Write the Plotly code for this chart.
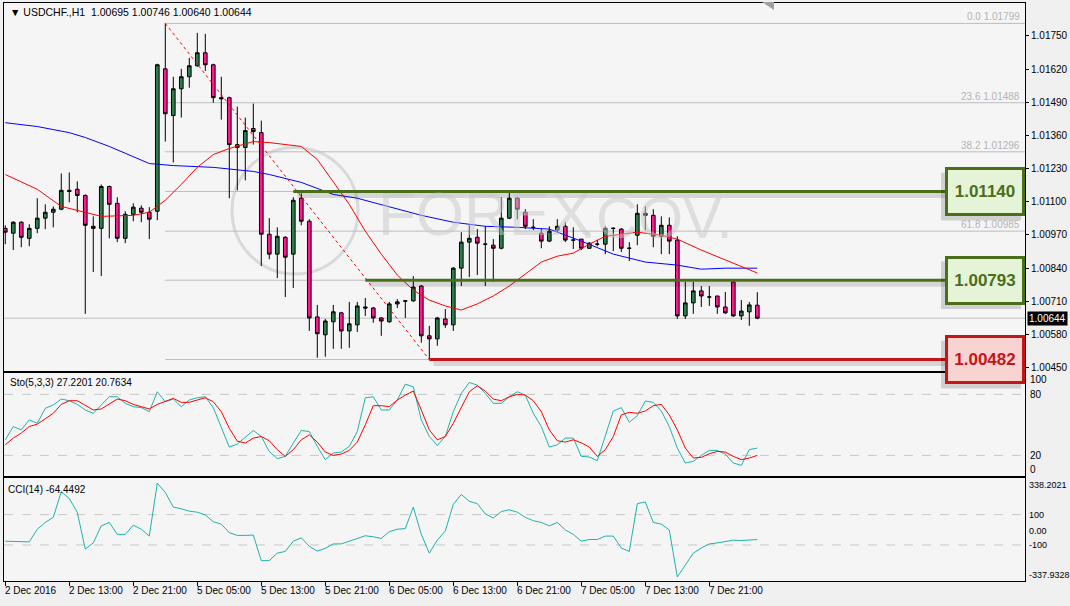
import plotly.graph_objects as go

# ---------------- data ----------------
time_labels = ["2 Dec 2016", "2 Dec 13:00", "2 Dec 21:00", "5 Dec 05:00", "5 Dec 13:00", "5 Dec 21:00",
               "6 Dec 05:00", "6 Dec 13:00", "6 Dec 21:00", "7 Dec 05:00", "7 Dec 13:00", "7 Dec 21:00"]
time_label_bars = [0, 8, 16, 24, 32, 40, 48, 56, 64, 72, 80, 88]

opens = [1.00996, 1.00977, 1.01020, 1.00957, 1.00996, 1.01036, 1.01059, 1.01071, 1.01145, 1.01149,
         1.01125, 1.01004, 1.00996, 1.01160, 1.01094, 1.00957, 1.01051, 1.01075, 1.01059, 1.01063,
         1.01621, 1.01438, 1.01543, 1.01590, 1.01633, 1.01684, 1.01637, 1.01508, 1.01508, 1.01324,
         1.01313, 1.01387, 1.01371, 1.00973, 1.00895, 1.00961, 1.00895, 1.01114, 1.01024, 1.00649,
         1.00579, 1.00630, 1.00665, 1.00594, 1.00618, 1.00688, 1.00684, 1.00645, 1.00630, 1.00700,
         1.00712, 1.00712, 1.00770, 1.00575, 1.00563, 1.00641, 1.00618, 1.00840, 1.00942, 1.00961,
         1.00934, 1.00930, 1.00918, 1.01036, 1.01114, 1.01059, 1.01000, 1.00977, 1.00946, 1.00989,
         1.01004, 1.00950, 1.00954, 1.00918, 1.00934, 1.00934, 1.00996, 1.00993, 1.00918, 1.00969,
         1.01055, 1.01047, 1.00965, 1.01008, 1.00950, 1.00653, 1.00704, 1.00751, 1.00727, 1.00731,
         1.00688, 1.00786, 1.00653, 1.00669, 1.00695]
highs = [1.01008, 1.01024, 1.01024, 1.01012, 1.01114, 1.01090, 1.01082, 1.01211, 1.01215, 1.01180,
         1.01129, 1.01043, 1.01168, 1.01164, 1.01118, 1.01063, 1.01094, 1.01086, 1.01079, 1.01641,
         1.01799, 1.01590, 1.01621, 1.01664, 1.01762, 1.01758, 1.01641, 1.01590, 1.01512, 1.01473,
         1.01430, 1.01485, 1.01418, 1.01036, 1.01000, 1.00965, 1.01118, 1.01133, 1.01032, 1.00696,
         1.00641, 1.00696, 1.00669, 1.00708, 1.00708, 1.00723, 1.00688, 1.00649, 1.00708, 1.00719,
         1.00715, 1.00809, 1.00774, 1.00614, 1.00649, 1.00680, 1.00844, 1.00981, 1.01008, 1.00993,
         1.01004, 1.00954, 1.01118, 1.01137, 1.01118, 1.01071, 1.01032, 1.00993, 1.01004, 1.01032,
         1.01020, 1.01000, 1.00954, 1.00942, 1.00950, 1.01004, 1.01000, 1.00997, 1.00942, 1.01090,
         1.01082, 1.01071, 1.01043, 1.01039, 1.00965, 1.00786, 1.00786, 1.00770, 1.00770, 1.00731,
         1.00747, 1.00790, 1.00715, 1.00708, 1.00746]
lows = [1.00934, 1.00911, 1.00922, 1.00926, 1.00977, 1.00993, 1.01000, 1.01067, 1.01098, 1.01059,
        1.00661, 1.00825, 1.00809, 1.00957, 1.00942, 1.00938, 1.01024, 1.01020, 1.00954, 1.01028,
        1.01336, 1.01254, 1.01430, 1.01547, 1.01629, 1.01613, 1.01488, 1.01422, 1.01114, 1.01145,
        1.01184, 1.01324, 1.00848, 1.00875, 1.00801, 1.00727, 1.00762, 1.01008, 1.00594, 1.00489,
        1.00493, 1.00524, 1.00524, 1.00528, 1.00590, 1.00653, 1.00626, 1.00575, 1.00626, 1.00684,
        1.00645, 1.00708, 1.00548, 1.00482, 1.00536, 1.00606, 1.00594, 1.00770, 1.00805, 1.00813,
        1.00770, 1.00786, 1.00914, 1.01032, 1.01032, 1.00993, 1.00989, 1.00918, 1.00942, 1.00981,
        1.00942, 1.00915, 1.00911, 1.00915, 1.00926, 1.00895, 1.00907, 1.00903, 1.00868, 1.00930,
        1.00989, 1.00922, 1.00895, 1.00895, 1.00641, 1.00641, 1.00661, 1.00688, 1.00692, 1.00661,
        1.00661, 1.00649, 1.00637, 1.00614, 1.00640]
closes = [1.00981, 1.01020, 1.00961, 1.00996, 1.01036, 1.01059, 1.01071, 1.01145, 1.01141, 1.01125,
          1.01008, 1.00996, 1.01160, 1.01090, 1.00957, 1.01051, 1.01079, 1.01059, 1.01032, 1.01637,
          1.01445, 1.01543, 1.01590, 1.01633, 1.01684, 1.01637, 1.01508, 1.01504, 1.01324, 1.01313,
          1.01379, 1.01375, 1.00973, 1.00895, 1.00965, 1.00883, 1.01106, 1.01024, 1.00645, 1.00583,
          1.00633, 1.00669, 1.00594, 1.00622, 1.00692, 1.00684, 1.00645, 1.00633, 1.00700, 1.00708,
          1.00711, 1.00766, 1.00575, 1.00563, 1.00645, 1.00618, 1.00840, 1.00942, 1.00957, 1.00938,
          1.00934, 1.00918, 1.01036, 1.01114, 1.01071, 1.01004, 1.01000, 1.00946, 1.00985, 1.01004,
          1.00950, 1.00950, 1.00918, 1.00938, 1.00934, 1.00996, 1.00996, 1.00918, 1.00918, 1.01055,
          1.01047, 1.00965, 1.01008, 1.00946, 1.00653, 1.00704, 1.00751, 1.00731, 1.00727, 1.00688,
          1.00665, 1.00653, 1.00672, 1.00696, 1.00644]

red_ma_bars = [0, 4, 7, 10, 12, 16, 18, 20, 22, 24, 26, 28, 31, 33, 35, 37, 39, 41, 43, 45, 47, 49, 51,
               53, 55, 57, 59, 61, 63, 65, 67, 69, 71, 73, 75, 77, 79, 82, 84, 87, 91, 94]
red_ma = [1.01207, 1.01149, 1.01082, 1.01059, 1.01043, 1.01047, 1.01059, 1.01106, 1.01168, 1.01235,
          1.01285, 1.01309, 1.01336, 1.01332, 1.01324, 1.01317, 1.01266, 1.01176, 1.01090, 1.00985,
          1.00895, 1.00813, 1.00754, 1.00715, 1.00692, 1.00676, 1.00700, 1.00731, 1.00770, 1.00817,
          1.00864, 1.00887, 1.00899, 1.00934, 1.00965, 1.00973, 1.00981, 1.00969, 1.00954, 1.00911,
          1.00860, 1.00821]
blue_ma_bars = [0, 4, 8, 10, 13, 16, 18, 21, 26, 31, 33, 37, 41, 44, 48, 52, 56, 60, 64, 68, 72, 76, 80,
                84, 87, 90, 94]
blue_ma = [1.01410, 1.01395, 1.01371, 1.01352, 1.01317, 1.01278, 1.01250, 1.01242, 1.01235, 1.01219,
           1.01207, 1.01176, 1.01129, 1.01114, 1.01082, 1.01047, 1.01020, 1.01004, 1.01000, 1.00993,
           1.00946, 1.00895, 1.00864, 1.00852, 1.00836, 1.00840, 1.00840]

sto_k = [35.3, 48.4, 45.1, 54.9, 51.6, 66.3, 69.6, 75.4, 73.8, 70.2,
         64.7, 61.4, 69.6, 77.7, 77.7, 71.2, 67.9, 67.0, 63.0, 82.6,
         72.8, 75.4, 67.9, 74.5, 76.7, 77.7, 67.0, 48.4, 28.2, 31.1,
         38.0, 44.5, 38.6, 23.9, 16.8, 19.0, 32.1, 44.5, 43.5, 28.8,
         15.8, 22.3, 23.3, 28.8, 43.5, 76.7, 77.7, 64.7, 64.7, 74.5,
         90.1, 87.5, 54.9, 38.6, 29.8, 38.6, 63.0, 81.0, 91.7, 89.1,
         81.0, 71.2, 71.2, 77.7, 82.6, 79.3, 61.4, 48.4, 28.2, 30.4,
         37.0, 37.0, 19.0, 18.4, 14.8, 40.2, 63.7, 67.0, 52.6, 59.1,
         73.5, 72.2, 63.7, 48.4, 27.2, 12.5, 14.1, 20.0, 24.9, 24.9,
         21.3, 12.5, 10.2, 25.6, 27.2]
sto_d = [30.4, 37.0, 41.9, 48.4, 50.7, 56.5, 61.4, 70.2, 73.8, 73.8,
         69.6, 64.7, 65.7, 70.2, 75.4, 73.8, 70.2, 67.9, 65.7, 70.2,
         72.8, 76.1, 72.2, 72.2, 74.5, 76.7, 72.8, 63.0, 46.7, 34.0,
         32.1, 37.0, 38.6, 34.4, 25.6, 19.0, 25.6, 35.3, 40.2, 33.1,
         23.3, 20.0, 21.3, 24.9, 33.1, 50.0, 68.9, 68.9, 67.9, 74.5,
         79.3, 83.3, 64.7, 45.1, 35.3, 38.6, 51.6, 67.9, 82.6, 88.5,
         83.3, 75.4, 73.8, 77.7, 80.0, 79.3, 73.8, 63.0, 45.1, 34.4,
         33.1, 35.3, 32.4, 28.2, 19.0, 25.6, 38.6, 59.8, 62.4, 61.4,
         63.7, 68.9, 70.2, 59.8, 45.1, 27.2, 17.4, 18.1, 21.6, 23.9,
         23.3, 19.0, 15.8, 17.4, 20.0]
cci = [-75.3, -75.3, -79.8, -79.8, 3.4, 48.3, 82.0, 250.5, 205.6, 115.7,
       -126.9, -86.5, 25.8, 48.3, -30.3, -30.3, 30.3, 3.4, -41.6, 306.7,
       246.1, 149.4, 138.2, 122.5, 115.7, 97.8, 52.8, 37.1, -19.1, -37.1,
       -37.1, -34.8, -203.3, -203.3, -153.9, -142.7, -75.3, -52.8, -109.0, -140.4,
       -122.5, -93.2, -93.2, -75.3, -57.3, -39.3, -46.1, -57.3, -12.4, 3.4,
       7.9, 149.4, -30.3, -153.9, -68.5, -7.9, 167.4, 232.6, 187.6, 171.9,
       104.5, 77.5, 120.2, 131.5, 115.7, 82.0, 59.6, 48.3, 25.8, 48.3,
       -1.1, -30.3, -75.3, -64.0, -64.0, -41.6, -41.6, -120.2, -142.7, 171.9,
       183.1, 48.3, 37.1, -1.1, -311.2, -232.6, -153.9, -120.2, -93.2, -86.5,
       -79.8, -68.5, -70.8, -68.5, -64.4]

sto_header_values = [27.2201, 20.7634]
cci_header_value = -64.4492
price_ticks = [1.01750, 1.01620, 1.01490, 1.01360, 1.01230, 1.01100, 1.00970, 1.00840, 1.00710, 1.00580, 1.00450]
fib_levels = [0.0, 23.6, 38.2, 50.0, 61.8, 76.4, 100.0]
fib_high_bar, fib_low_bar = 20, 53
sr_levels = [1.01140, 1.00793, 1.00482]
sr_start_bars = [36, 45, 53]
sto_levels = [80, 20]
cci_levels = [100, -100]
cci_max, cci_min = 338.2021, -337.9328

# ---------------- geometry helpers ----------------
W, H = 1070, 606
def px(xp):
    return xp / W
def py(yp):
    return 1 - yp / H

FONT = "Liberation Sans, DejaVu Sans, sans-serif"
GREEN_BODY = "#2f7d4e"
PINK_BODY = "#ff1a8c"
n = len(closes)
bars = list(range(n))

Y_TOP_PRICE, Y_TOP_PX, PX_PER_PRICE = 1.0175, 36, 25615.0
def price_to_px(p):
    return Y_TOP_PX + (Y_TOP_PRICE - p) * PX_PER_PRICE

fig = go.Figure()

fig.add_trace(go.Candlestick(
    x=bars, open=opens, high=highs, low=lows, close=closes,
    increasing=dict(line=dict(color="black", width=1), fillcolor=GREEN_BODY),
    decreasing=dict(line=dict(color="black", width=1), fillcolor=PINK_BODY),
    whiskerwidth=0, xaxis="x", yaxis="y", showlegend=False, hoverinfo="skip"))

fig.add_trace(go.Scatter(x=blue_ma_bars, y=blue_ma, mode="lines", line=dict(color="#0000ff", width=1),
                         xaxis="x", yaxis="y", showlegend=False, hoverinfo="skip"))
fig.add_trace(go.Scatter(x=red_ma_bars, y=red_ma, mode="lines", line=dict(color="#ff0000", width=1),
                         xaxis="x", yaxis="y", showlegend=False, hoverinfo="skip"))

fib_hi = highs[fib_high_bar]
fib_lo = lows[fib_low_bar]
fig.add_trace(go.Scatter(x=[fib_high_bar, fib_low_bar], y=[fib_hi, fib_lo], mode="lines",
                         line=dict(color="#ff0000", width=1, dash="dot"),
                         xaxis="x", yaxis="y", showlegend=False, hoverinfo="skip"))

fig.add_trace(go.Scatter(x=bars, y=sto_k, mode="lines", line=dict(color="#20b2aa", width=1),
                         xaxis="x2", yaxis="y2", showlegend=False, hoverinfo="skip"))
fig.add_trace(go.Scatter(x=bars, y=sto_d, mode="lines", line=dict(color="#ff0000", width=1),
                         xaxis="x2", yaxis="y2", showlegend=False, hoverinfo="skip"))
fig.add_trace(go.Scatter(x=bars, y=cci, mode="lines", line=dict(color="#20b2aa", width=1),
                         xaxis="x3", yaxis="y3", showlegend=False, hoverinfo="skip"))

XL, XR = 4, 1025
x_range = [-0.16, 127.46]
def bar_of_px(xp):
    return x_range[0] + (xp - XL) / (XR - XL) * (x_range[1] - x_range[0])

shapes = []
annotations = []

# fib levels (labels of levels hidden behind the level boxes are not shown)
fib_range = fib_hi - fib_lo
for lv in fib_levels:
    p = fib_hi - fib_range * lv / 100.0
    shapes.append(dict(type="line", xref="x", yref="y", x0=fib_high_bar, x1=x_range[1], y0=p, y1=p,
                       line=dict(color="#bdbdbd", width=1), layer="below"))
    if min(abs(p - s) for s in sr_levels) > 0.0001:
        annotations.append(dict(xref="paper", yref="y", x=px(1022), y=p, xanchor="right", yanchor="bottom",
                                text=f"{lv:.1f} {p:.5f}", showarrow=False, yshift=-1,
                                font=dict(family=FONT, size=10, color="#b4b4b4")))

# current price line
shapes.append(dict(type="line", xref="paper", yref="y", x0=px(XL), x1=px(XR), y0=closes[-1], y1=closes[-1],
                   line=dict(color="#c0c0c0", width=1), layer="below"))

# watermark
shapes.append(dict(type="circle", xref="paper", yref="paper", x0=px(232), x1=px(358), y0=py(275), y1=py(148),
                   line=dict(color="rgba(205,205,205,0.7)", width=3), layer="below"))
annotations.append(dict(xref="paper", yref="paper", x=px(485), y=py(214), text="FOREX", showarrow=False,
                        font=dict(family=FONT, size=62, color="rgba(200,200,200,0.5)")))
annotations.append(dict(xref="paper", yref="paper", x=px(735), y=py(218), text=".COV.", showarrow=False,
                        font=dict(family=FONT, size=58, color="rgba(200,200,200,0.5)")))

# support/resistance lines and boxes
box_left_bar = bar_of_px(945)
sr_styles = [("#4a6e1c", "#e5f4d6"), ("#4a6e1c", "#e5f4d6"), ("#c41616", "#f9d2d2")]
for lvl, sb, (lc, fc) in zip(sr_levels, sr_start_bars, sr_styles):
    off = 4 / PX_PER_PRICE
    shapes.append(dict(type="line", xref="x", yref="y", x0=sb + 0.5, x1=box_left_bar, y0=lvl - off, y1=lvl - off,
                       line=dict(color="rgba(0,0,0,0.13)", width=5)))
    shapes.append(dict(type="line", xref="x", yref="y", x0=sb, x1=box_left_bar, y0=lvl, y1=lvl,
                       line=dict(color=lc, width=3)))
    yc = price_to_px(lvl)
    shapes.append(dict(type="rect", xref="paper", yref="paper", x0=px(941), x1=px(1021), y0=py(yc + 29),
                       y1=py(yc - 19), fillcolor="rgba(0,0,0,0.15)", line=dict(width=0)))
    annotations.append(dict(xref="paper", yref="y", x=px(985), y=lvl, xanchor="center", yanchor="middle",
                            text=f"<b>{lvl:.5f}</b>", showarrow=False,
                            width=74, height=43, borderwidth=3, borderpad=0, bordercolor=lc, bgcolor=fc,
                            font=dict(family=FONT, size=17, color=lc)))

# current price marker
annotations.append(dict(xref="paper", yref="y", x=px(1027), y=closes[-1], xanchor="left", yanchor="middle",
                        text=f"{closes[-1]:.5f}", showarrow=False, bgcolor="black", borderpad=1,
                        font=dict(family=FONT, size=10, color="white")))

# header texts
annotations.append(dict(xref="paper", yref="paper", x=px(8), y=py(12), xanchor="left", yanchor="middle",
                        text=f"▼ USDCHF.,H1  {opens[-1]:.5f} {highs[-1]:.5f} {lows[-1]:.5f} {closes[-1]:.5f}",
                        showarrow=False, font=dict(family=FONT, size=10.5, color="black")))
annotations.append(dict(xref="paper", yref="paper", x=px(8), y=py(384), xanchor="left", yanchor="middle",
                        text=f"Sto(5,3,3) {sto_header_values[0]:.4f} {sto_header_values[1]:.4f}",
                        showarrow=False, font=dict(family=FONT, size=10, color="black")))
annotations.append(dict(xref="paper", yref="paper", x=px(6), y=py(491), xanchor="left", yanchor="middle",
                        text=f"CCI(14) {cci_header_value:.4f}", showarrow=False,
                        font=dict(family=FONT, size=10, color="black")))

# indicator dashed levels
for v in sto_levels:
    shapes.append(dict(type="line", xref="paper", yref="y2", x0=px(XL), x1=px(XR), y0=v, y1=v,
                       line=dict(color="#c8c8c8", width=1, dash="dash"), layer="below"))
for v in cci_levels:
    shapes.append(dict(type="line", xref="paper", yref="y3", x0=px(XL), x1=px(XR), y0=v, y1=v,
                       line=dict(color="#c8c8c8", width=1, dash="dash"), layer="below"))

# indicator axis labels
for txt, yp in [("100", 381), ("80", 396), ("20", 457), ("0", 471)]:
    annotations.append(dict(xref="paper", yref="paper", x=px(1028), y=py(yp), xanchor="left", yanchor="middle",
                            text=txt, showarrow=False, font=dict(family=FONT, size=10, color="black")))
for txt, yp in [(f"{cci_max:.4f}", 487), ("100", 517), ("0.00", 533), ("-100", 547), (f"{cci_min:.4f}", 577)]:
    annotations.append(dict(xref="paper", yref="paper", x=px(1027), y=py(yp), xanchor="left", yanchor="middle",
                            text=txt, showarrow=False, font=dict(family=FONT, size=9, color="black")))

# time labels
for b, t in zip(time_label_bars, time_labels):
    annotations.append(dict(xref="x3", yref="paper", x=b, y=py(592), xanchor="left", yanchor="middle",
                            text=t, showarrow=False, xshift=-2, font=dict(family=FONT, size=10, color="black")))

# small marker at top
shapes.append(dict(type="path", xref="paper", yref="paper",
                   path=f"M {px(762)},{py(2)} L {px(774)},{py(2)} L {px(774)},{py(10)} Z",
                   fillcolor="#a0a0a0", line=dict(width=0)))

axis_common = dict(showgrid=False, zeroline=False, showline=True, mirror=True, linecolor="black", linewidth=1)

fig.update_layout(
    width=W, height=H, margin=dict(l=0, r=0, t=0, b=0),
    paper_bgcolor="#f0f0f0", plot_bgcolor="#f5f5f5",
    showlegend=False, boxgap=0.35,
    xaxis=dict(domain=[px(XL), px(XR)], range=x_range, showticklabels=False, rangeslider=dict(visible=False),
               anchor="y", **axis_common),
    yaxis=dict(domain=[py(372), py(3)], range=[1.00438, 1.01879], side="right", tickvals=price_ticks,
               tickformat=".5f", ticks="outside", ticklen=3, tickcolor="black", anchor="x",
               tickfont=dict(family=FONT, size=10, color="black"), **axis_common),
    xaxis2=dict(domain=[px(XL), px(XR)], range=x_range, showticklabels=False, anchor="y2", matches="x",
                **axis_common),
    yaxis2=dict(domain=[py(478), py(374)], range=[-0.7, 101.3], showticklabels=False, anchor="x2",
                side="right", **axis_common),
    xaxis3=dict(domain=[px(XL), px(XR)], range=x_range, showticklabels=False, anchor="y3", matches="x",
                tickvals=time_label_bars, ticks="outside", ticklen=4, tickcolor="black", **axis_common),
    yaxis3=dict(domain=[py(583), py(480)], range=[cci_min, cci_max], showticklabels=False, anchor="x3",
                side="right", **axis_common),
    shapes=shapes, annotations=annotations,
)

fig.write_html("out.html")
